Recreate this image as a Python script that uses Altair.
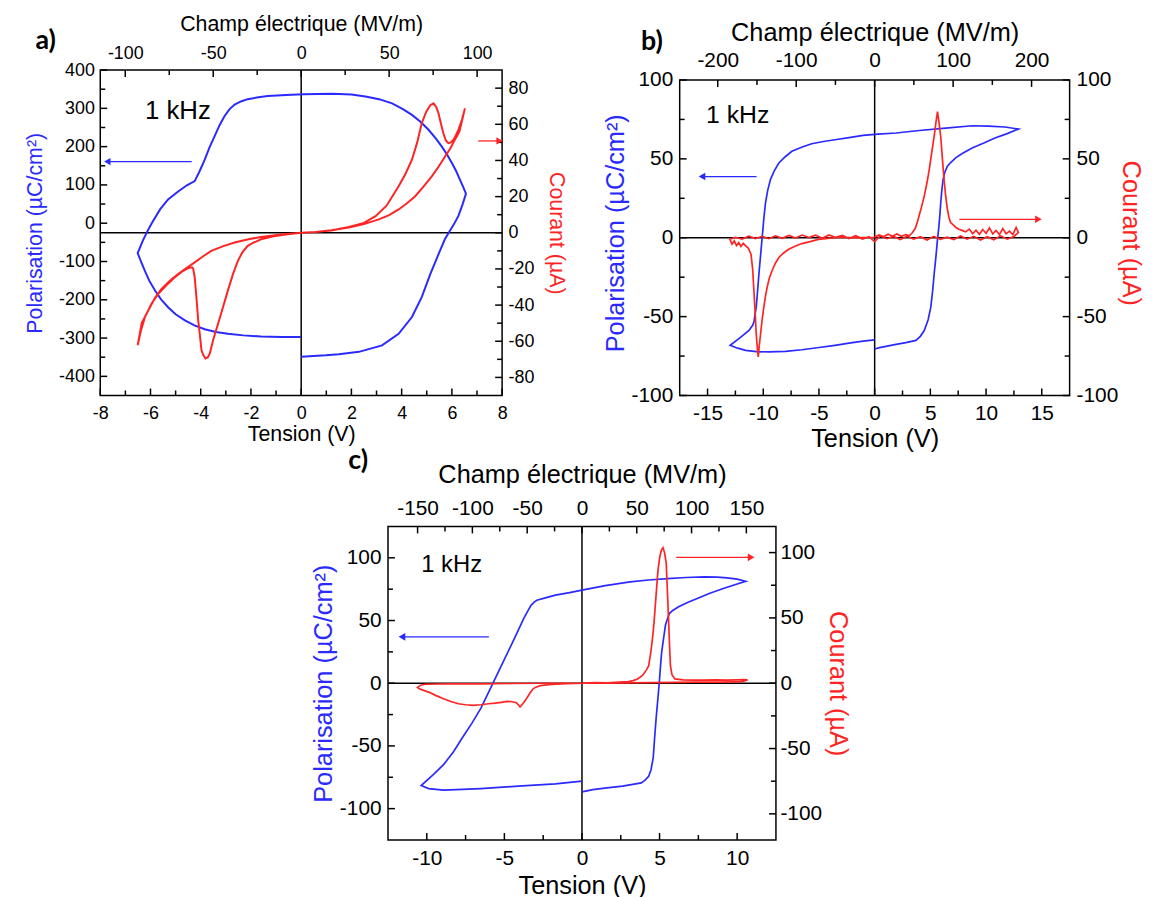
import altair as alt
import pandas as pd

FONT = "Liberation Sans"
BLUE = "#2a2aff"
RED = "#ff2424"

# ---------------- Panel a ----------------
a_pol_v = [0, -0.8, -1.6, -2.3, -2.92, -3.4, -3.84, -4.25, -4.63, -5.0, -5.29, -5.58, -5.82, -6.05, -6.22, -6.38, -6.51,
           -6.3, -6.13, -5.95, -5.62, -5.3, -4.9, -4.55, -4.24, -4.05, -3.84, -3.65, -3.45, -3.25, -3.05, -2.85, -2.65,
           -2.4, -2.13, -1.7, -1.33, -0.6, 0.1, 1.24, 2.0, 2.56, 3.1, 3.62, 4.05, 4.41, 4.75, 5.07, 5.35, 5.6, 5.82,
           6.0, 6.18, 6.32, 6.45, 6.56,
           6.42, 6.26, 6.08, 5.88, 5.72, 5.47, 5.14, 4.8, 4.41, 3.88, 3.22, 2.3, 1.5, 0.98, 0]
a_pol_p = [-297, -297, -296, -293, -289, -284, -277, -267, -254, -238, -220, -199, -176, -150, -125, -100, -78,
           -45, -22, 0, 36, 62, 83, 99, 110, 135, 166, 198, 227, 256, 280, 298, 310,
           318, 324, 329, 332, 335, 337, 338, 336, 331, 324, 313, 298, 283, 265, 244, 222, 200, 178,
           157, 135, 114, 95, 77,
           48, 19, -3, -24, -42, -81, -133, -193, -245, -289, -319, -336, -342, -345, -349]
a_cur_v = [0, 0.6, 1.2, 1.9, 2.5, 2.96, 3.4, 3.88, 4.15, 4.41, 4.62, 4.8, 4.98, 5.14, 5.27, 5.38, 5.47, 5.57, 5.66,
           5.76, 5.86, 5.96, 6.06, 6.16, 6.26, 6.4, 6.52,
           6.3, 6.12, 5.93, 5.73, 5.47, 5.2, 4.87, 4.54, 4.2, 3.88, 3.5, 3.09, 2.5, 1.9, 1.2, 0.58, 0,
           -0.54, -1.1, -1.6, -1.9, -2.13, -2.35, -2.52, -2.72, -2.92, -3.12, -3.31, -3.5, -3.64, -3.72, -3.81,
           -3.9, -3.97, -4.03, -4.1, -4.17, -4.24, -4.3, -4.34, -4.5, -4.75, -5.03, -5.35, -5.69, -5.95, -6.22,
           -6.38, -6.51,
           -6.35, -6.09, -5.82, -5.56, -5.23, -4.9, -4.57, -4.24, -3.9, -3.58, -3.1, -2.65, -2.1, -1.6, -0.8, 0]
a_cur_i = [0, 0.5, 1.3, 3.2, 5.5, 9.2, 15, 25.7, 32.5, 40.4, 50, 60.6, 67, 70.6, 71.6, 69.5, 66, 60, 55,
           51, 49.6, 50, 51.4, 54, 56.9, 62.5, 68.8,
           56, 51.4, 46.5, 42.2, 36.5, 31.2, 25.5, 20.2, 16.2, 12.9, 9.8, 7.4, 4.8, 2.9, 1.4, 0.4, 0,
           -0.8, -2, -3.6, -5.5, -7.2, -11, -15.5, -23, -32, -41.5, -50.3, -59, -66.8, -69, -69.5,
           -67.5, -65, -57, -48.5, -36, -24.6, -20, -19.1, -19.5, -21.5, -24.6, -28.8, -33.8, -39, -46.6,
           -54, -62.2,
           -50, -43, -36, -31, -26.5, -22.8, -19.5, -16.4, -13, -10, -7.4, -5.4, -3.6, -2.3, -0.9, 0]

# ---------------- Panel b ----------------
b_pol_v = [0, -1.04, -2.3, -3.56, -5.0, -6.53, -8.0, -9.5, -10.6, -11.58, -12.3, -12.97,
           -12.1, -11.28, -10.95, -10.84, -10.72, -10.63, -10.5, -10.39, -10.25, -10.1, -9.95, -9.8, -9.6, -9.35,
           -9.0, -8.6, -8.0, -7.43, -6.5, -5.65, -4.6, -3.56, -2.3, -1.04, 0.3, 1.93, 4.0, 6.38, 8.75, 10.2, 11.7, 12.9,
           11.9, 10.8, 9.8, 8.75, 7.9, 7.27, 6.8, 6.53, 6.3, 6.14, 6.03, 5.93, 5.85, 5.75, 5.64, 5.5, 5.34, 5.2,
           5.04, 4.8, 4.45, 4.1, 3.7, 2.8, 1.92, 0.44, 0]
b_pol_p = [-64.7, -65.5, -66.8, -68.2, -69.6, -71, -72, -72.4, -72.2, -71.4, -70, -68.2,
           -63.5, -58.8, -55.5, -53.5, -48, -44, -33, -23, -12, 0, 12, 22, 30, 37,
           42.5, 47.4, 51.5, 54.8, 57.5, 59.6, 61, 62.1, 63.5, 64.9, 65.7, 66.4, 68, 69.5, 71, 70.8, 70.2, 68.9,
           66, 63.2, 60, 56.9, 53.5, 50.6, 47.5, 45.3, 41.5, 36.9, 30, 22.2, 14, 6, -1, -12, -23, -34,
           -44, -52, -58.8, -62.5, -65.1, -66.5, -67.6, -69.7, -70.5]
b_cur_v = [0, 0.4, 0.8, 1.2, 1.6, 2.0, 2.4, 2.8, 3.1, 3.4, 3.65, 3.86, 4.15, 4.45, 4.7, 4.9, 5.12, 5.34, 5.5, 5.64,
           5.78, 5.93, 6.08, 6.23, 6.38, 6.53, 6.68, 6.82, 7.1, 7.3, 7.57, 7.9, 8.16, 8.5, 8.8, 9.1, 9.4, 9.7, 10.0,
           10.3, 10.6, 10.9, 11.2, 11.5, 11.8, 12.1, 12.4, 12.7, 12.9,
           12.5, 11.9, 11.3, 10.7, 10.1, 9.5, 8.9, 8.3, 7.7, 7.1, 6.5, 5.9, 5.3, 4.7, 4.1, 3.5, 2.9, 2.3, 1.7, 1.1,
           0.5, 0, -0.5, -1.1, -1.7, -2.3, -2.9, -3.5, -4.1, -4.7, -5.3, -5.9, -6.5, -7.1, -7.7, -8.3, -8.9, -9.5,
           -10.1, -10.7, -11.3, -11.9, -12.5, -13,
           -12.8, -12.6, -12.4, -12.2, -12.0, -11.8, -11.6, -11.35, -11.1, -10.95, -10.84, -10.72, -10.63, -10.53,
           -10.45, -10.35, -10.24, -10.1, -9.95, -9.8, -9.65, -9.45, -9.21, -8.9, -8.6, -8.2, -7.72, -7.1, -6.53,
           -5.8, -5.05, -4.0, -3.0, -2.0, 0]
b_cur_i = [0.5, 1.8, 0.6, 2.2, 1.0, 2.4, 0.9, 2.0, 1.2, 3.3, 6, 10.6, 18, 26.4, 35, 43.2, 54, 64.2, 73, 80,
           73, 64.2, 50, 36.9, 26, 18, 12.5, 9.6, 7.8, 6.5, 5.4, 4.5, 3.7, 5.5, 2.6, 4.8, 2.2, 5.2, 2.8,
           6.2, 2.4, 4.6, 2.0, 5.8, 2.5, 4.2, 2.0, 6.5, 3.3,
           0.8, -0.9, 1.2, -1.3, 0.6, -1.5, 0.9, -0.8, 1.1, -1.2, 0.4, -1.0, 0.9, -1.4, 0.7, -0.9, 1.0, -1.2, 0.8, -0.6,
           1.1, -2.5, 0.7, -0.8, 1.3, -0.5, 1.5, 0.2, 1.8, -0.3, 1.6, 0.1, 1.7, -0.2, 1.4, -0.4, 1.2, -0.6,
           0.9, -0.5, 1.0, -0.8, 0.3, -1,
           -4, -2, -5, -3, -5.5, -3.5, -5, -6.5, -10.4, -20, -33.6, -48, -61, -70,
           -75.6, -68, -61, -52, -44, -37, -31.4, -25.5, -20.9, -16, -12.5, -9.8, -7.3, -5.2, -3.7,
           -2.5, -1, -0.3, 0.4, 0, 0.3]

# ---------------- Panel c ----------------
c_pol_v = [0, -1.71, -4.11, -6.51, -8.92, -9.88, -10.36,
           -9.6, -8.92, -8.3, -7.72, -7.1, -6.51, -5.79, -5.07, -4.35, -3.75, -3.45, -3.27, -3.1, -2.91, -2.3, -1.71,
           -0.8, 0, 1.5, 3.1, 4.3, 5.5, 6.7, 7.9, 8.7, 9.35, 10.0, 10.55,
           9.8, 9.11, 8.2, 7.43, 6.8, 6.23, 5.85, 5.63, 5.5, 5.38, 5.25, 5.14, 5.05, 4.98, 4.88, 4.78, 4.68, 4.59,
           4.45, 4.3, 4.05, 3.82, 2.62, 1.6, 0.7, 0]
c_pol_p = [-78.1, -80.3, -82.1, -84, -85.3, -84, -81.6,
           -73, -64.9, -55, -43.7, -32, -19.9, -1.3, 17.2, 35.8, 51.7, 58.5, 62.3, 64.5, 66.2, 68.3, 70.2,
           72.2, 74.2, 77.8, 80.8, 82.3, 83.4, 84.3, 84.8, 84.6, 84, 83, 81.3,
           78.3, 75.5, 71.5, 67.5, 64.3, 60.9, 58, 55.6, 51, 46.3, 35, 25.2, 12, 0, -14, -27.8, -44, -59.6,
           -69, -74.2, -77.5, -79.5, -82.1, -83.5, -84.8, -86.6]
c_cur_v = [0, 0.8, 1.6, 2.4, 3.0, 3.3, 3.58, 3.9, 4.15, 4.3, 4.45, 4.58, 4.66, 4.78, 4.9, 5.02, 5.12, 5.22, 5.32,
           5.43, 5.5, 5.58, 5.64, 5.7, 5.8, 5.99, 6.5, 7.2, 7.9, 8.6, 9.3, 10.0, 10.5, 10.67,
           10.3, 9.0, 7.5, 6.0, 4.5, 3.0, 1.5, 0,
           -1.0, -2.0, -2.67, -3.0, -3.15, -3.35, -3.58, -3.8, -3.99, -4.1, -4.23, -4.5, -4.83, -5.2, -5.6, -6.03,
           -6.5, -7.0, -7.5, -7.96, -8.45, -8.92, -9.4, -9.88, -10.2, -10.48, -10.6,
           -10.4, -10.1, -8.5, -6.5, -4.5, -2.5, 0]
c_cur_i = [0, 0.5, 0.3, 0.8, 1.2, 2.0, 3.3, 6, 10, 13.4, 25, 38, 48.9, 68, 86.8, 97, 102, 103.8, 100,
           91.9, 72, 48.9, 30, 13.4, 6.5, 3.3, 2.6, 2.3, 2.3, 2.5, 2.4, 2.6, 2.8, 2.5,
           1.2, 0.9, 0.8, 0.6, 0.4, 0.2, 0.1, 0,
           -0.3, -0.9, -1.8, -3.2, -4.3, -7.5, -11.9, -15.5, -18.2, -16.5, -14.9, -14.2, -13.9, -14.6, -15.3, -15.7,
           -16.5, -17, -16.5, -15.7, -14, -11.9, -9.5, -6.8, -5.5, -4.3, -3.2,
           -1.5, -0.8, -0.4, -0.5, -0.2, 0, 0]

TITLE_E = "Champ électrique (MV/m)"
TITLE_V = "Tension (V)"
TITLE_P = "Polarisation (µC/cm²)"
TITLE_I = "Courant (µA)"


def frange(lo, hi, step):
    out, k = [], 0
    while lo + k * step <= hi + 1e-9:
        out.append(round(lo + k * step, 6))
        k += 1
    return out


def is_major(v, major):
    r = abs(v) % major
    return r < 1e-6 or abs(r - major) < 1e-6


def make_axis(orient, values, major, lsize, tsize, title, tcolor, lpad, tpad, offset=0):
    return alt.Axis(
        orient=orient, values=values,
        labelExpr=f"abs(datum.value) % {major} < 1e-6 ? toString(datum.value) : ''",
        ticks=False, tickSize=0, offset=offset, domain=False, grid=False,
        labelColor="black", labelFont=FONT, titleFont=FONT, labelFontSize=lsize, titleFontSize=tsize,
        title=title, titleColor=tcolor, titleFontWeight="normal",
        labelPadding=lpad, titlePadding=tpad, labelOverlap=False, labelFlush=False,
    )


def tick_layers(values, major, scale, side, w, h, extra):
    """Inward tick marks along one edge of the frame (mark_tick centred half a length inside)."""
    out = []
    for sel, L in ((True, 7), (False, 5)):
        vals = [v for v in values if is_major(v, major) == sel]
        if not vals:
            continue
        df = pd.DataFrame({"t": vals})
        if side in ("bottom", "top"):
            yc = h + extra - L / 2 if side == "bottom" else extra + L / 2
            out.append(alt.Chart(df).mark_tick(orient="vertical", color="black", opacity=1,
                                               thickness=1.5, size=L).encode(
                x=alt.X("t:Q", scale=scale, axis=None), y=alt.value(yc)))
        else:
            xc = L / 2 if side == "left" else w - L / 2
            out.append(alt.Chart(df).mark_tick(orient="horizontal", color="black", opacity=1,
                                               thickness=1.5, size=L).encode(
                y=alt.Y("t:Q", scale=scale, axis=None), x=alt.value(xc)))
    return out


def panel(cfg):
    sV = alt.Scale(domain=cfg["vdom"], nice=False, zero=False)
    sE = alt.Scale(domain=cfg["edom"], nice=False, zero=False)
    sP = alt.Scale(domain=cfg["pdom"], nice=False, zero=False)
    sI = alt.Scale(domain=cfg["idom"], nice=False, zero=False)
    ls, ts, lw = cfg["lsize"], cfg["tsize"], cfg["lw"]
    extra = cfg.get("extra", 0)
    w, h = cfg["w"], cfg["h"]

    dfP = pd.DataFrame({"v": cfg["pv"], "p": cfg["pp"], "i": range(len(cfg["pv"]))})
    dfI = pd.DataFrame({"v": cfg["iv"], "c": cfg["ii"], "i": range(len(cfg["iv"]))})

    bottom = make_axis("bottom", cfg["vticks"], cfg["vmajor"], ls, ts, TITLE_V, "black", *cfg["pad_b"])
    left = make_axis("left", cfg["pticks"], cfg["pmajor"], ls, ts, TITLE_P, BLUE, *cfg["pad_l"])
    right = make_axis("right", cfg["iticks"], cfg["imajor"], ls, ts, TITLE_I, RED, *cfg["pad_r"])
    top = make_axis("top", cfg["eticks"], cfg["emajor"], ls, ts, TITLE_E, "black", *cfg["pad_t"],
                    offset=-extra)

    layers = []
    if extra:
        frame = pd.DataFrame({"x1": [cfg["vdom"][0]], "x2": [cfg["vdom"][1]],
                              "y1": [cfg["frame"][0]], "y2": [cfg["frame"][1]]})
        layers.append(alt.Chart(frame).mark_rect(fillOpacity=0, stroke="black", strokeWidth=1.5).encode(
            x=alt.X("x1:Q", scale=sV, axis=None), x2="x2:Q",
            y=alt.Y("y1:Q", scale=sP, axis=None), y2="y2:Q"))
        vdf = pd.DataFrame({"v": [0], "y1": [cfg["frame"][0]], "y2": [cfg["frame"][1]]})
        layers.append(alt.Chart(vdf).mark_rule(color="black", strokeWidth=1.5).encode(
            x=alt.X("v:Q", scale=sV, axis=None),
            y=alt.Y("y1:Q", scale=sP, axis=None), y2="y2:Q"))
    else:
        layers.append(alt.Chart(pd.DataFrame({"v": [0]})).mark_rule(color="black", strokeWidth=1.5).encode(
            x=alt.X("v:Q", scale=sV, axis=None)))

    layers += tick_layers(cfg["vticks"], cfg["vmajor"], sV, "bottom", w, h, extra)
    layers += tick_layers(cfg["eticks"], cfg["emajor"], sE, "top", w, h, extra)
    layers += tick_layers(cfg["pticks"], cfg["pmajor"], sP, "left", w, h, extra)
    layers += tick_layers(cfg["iticks"], cfg["imajor"], sI, "right", w, h, extra)

    hline = alt.Chart(pd.DataFrame({"c": [0]})).mark_rule(color="black", strokeWidth=1.5).encode(
        y=alt.Y("c:Q", scale=sI, axis=None))
    topaxis = alt.Chart(pd.DataFrame({"e": cfg["edom"]})).mark_rule(opacity=0).encode(
        x=alt.X("e:Q", scale=sE, axis=top))
    pol = alt.Chart(dfP).mark_line(color=BLUE, strokeWidth=lw).encode(
        x=alt.X("v:Q", scale=sV, axis=bottom),
        y=alt.Y("p:Q", scale=sP, axis=left),
        order="i:Q")
    cur = alt.Chart(dfI).mark_line(color=RED, strokeWidth=lw).encode(
        x=alt.X("v:Q", scale=sV, axis=None),
        y=alt.Y("c:Q", scale=sI, axis=right),
        order="i:Q")

    ba = cfg["barrow"]
    ra = cfg["rarrow"]
    barrow = alt.Chart(pd.DataFrame({"x1": [ba[0]], "x2": [ba[1]], "y": [ba[2]]})).mark_rule(
        color=BLUE, strokeWidth=1.3).encode(
        x=alt.X("x1:Q", scale=sV, axis=None), x2="x2:Q", y=alt.Y("y:Q", scale=sP, axis=None))
    bhead = alt.Chart(pd.DataFrame({"x": [ba[0]], "y": [ba[2]]})).mark_point(
        shape="triangle-left", filled=True, color=BLUE, opacity=1, size=cfg["hsize"]).encode(
        x=alt.X("x:Q", scale=sV, axis=None), y=alt.Y("y:Q", scale=sP, axis=None))
    rarrow = alt.Chart(pd.DataFrame({"x1": [ra[0]], "x2": [ra[1]], "y": [ra[2]]})).mark_rule(
        color=RED, strokeWidth=1.3).encode(
        x=alt.X("x1:Q", scale=sV, axis=None), x2="x2:Q", y=alt.Y("y:Q", scale=sI, axis=None))
    rhead = alt.Chart(pd.DataFrame({"x": [ra[1]], "y": [ra[2]]})).mark_point(
        shape="triangle-right", filled=True, color=RED, opacity=1, size=cfg["hsize"]).encode(
        x=alt.X("x:Q", scale=sV, axis=None), y=alt.Y("y:Q", scale=sI, axis=None))

    khz = alt.Chart(pd.DataFrame({"x": [cfg["khz"][0]], "y": [cfg["khz"][1]], "t": ["1 kHz"]})).mark_text(
        align="left", baseline="middle", font=FONT, fontSize=cfg["ksize"], color="black").encode(
        x=alt.X("x:Q", scale=sV, axis=None), y=alt.Y("y:Q", scale=sP, axis=None), text="t:N")
    letter = alt.Chart(pd.DataFrame({"t": [cfg["letter"]]})).mark_text(
        align="center", baseline="middle", font="Lato", fontWeight="bold", fontSize=27, color="black").encode(
        x=alt.value(cfg["lpos"][0]), y=alt.value(cfg["lpos"][1] + extra), text="t:N")

    layers += [hline, topaxis, pol, cur, barrow, bhead, rarrow, rhead, khz, letter]
    ch = alt.layer(*layers).resolve_scale(x="independent", y="independent")
    if extra:
        return ch.properties(width=w, height=h + extra, view=alt.ViewBackground(stroke=None))
    return ch.properties(width=w, height=h)


cfg_a = dict(
    vdom=[-8, 8], edom=[-114.2, 114.2], pdom=[-450, 400], idom=[-90, 90], w=405, h=328,
    pv=a_pol_v, pp=a_pol_p, iv=a_cur_v, ii=a_cur_i,
    vticks=frange(-8, 8, 1), vmajor=2, pticks=frange(-400, 400, 50), pmajor=100,
    iticks=frange(-80, 80, 10), imajor=20, eticks=frange(-100, 100, 25), emajor=50,
    lsize=18, tsize=21.5, lw=2,
    pad_b=(9, 1), pad_l=(6, 12), pad_r=(6, 11), pad_t=(8, 9),
    barrow=(-7.72, -4.36, 161), rarrow=(7.05, 7.9, 50.8), hsize=55,
    khz=(-6.22, 292), ksize=26, letter="a)", lpos=(-55, -29),
)
# panel b sits 10 px lower than panel a: its view is 10 px taller at the top
B_EXTRA = 10
cfg_b = dict(
    vdom=[-17.5, 17.5], edom=[-248.5, 248.5], pdom=[-100, 100 + B_EXTRA * 200 / 318],
    idom=[-100, 100 + B_EXTRA * 200 / 318], w=393, h=318, extra=B_EXTRA, frame=(-100, 100),
    pv=b_pol_v, pp=b_pol_p, iv=b_cur_v, ii=b_cur_i,
    vticks=frange(-15, 15, 2.5), vmajor=5, pticks=frange(-100, 100, 25), pmajor=50,
    iticks=frange(-100, 100, 25), imajor=50, eticks=frange(-200, 200, 50), emajor=100,
    lsize=21, tsize=25.5, lw=1.7,
    pad_b=(7, 3), pad_l=(7, 3), pad_r=(6.5, 0), pad_t=(9.5, 4),
    barrow=(-15.5, -10.6, 38.8), rarrow=(7.6, 14.7, 11.7), hsize=60,
    khz=(-15.14, 77.9), ksize=25, letter="b)", lpos=(-28, -38),
)
cfg_c = dict(
    vdom=[-12.5, 12.5], edom=[-177, 177], pdom=[-125, 125], idom=[-120, 120], w=391, h=316,
    pv=c_pol_v, pp=c_pol_p, iv=c_cur_v, ii=c_cur_i,
    vticks=frange(-10, 10, 2.5), vmajor=5, pticks=frange(-100, 100, 25), pmajor=50,
    iticks=frange(-100, 100, 25), imajor=50, eticks=frange(-150, 150, 25), emajor=50,
    lsize=21, tsize=25.5, lw=1.7,
    pad_b=(7.5, 5), pad_l=(7, 3), pad_r=(4, 3), pad_t=(8, 10),
    barrow=(-11.6, -6.0, 37), rarrow=(6.07, 10.9, 96.4), hsize=60,
    khz=(-10.36, 94.4), ksize=24, letter="c)", lpos=(-30, -66),
)

pa = panel(cfg_a)
pb = panel(cfg_b)
pc = panel(cfg_c)

spacer = alt.Chart(pd.DataFrame({"x": [0]})).mark_point(opacity=0).properties(
    width=202, height=10, view=alt.ViewBackground(stroke=None))

top_row = alt.hconcat(pa, pb, spacing=35)
bottom_row = alt.hconcat(spacer, pc, spacing=10)
chart = alt.vconcat(top_row, bottom_row, spacing=-6).properties(
    padding={"left": 16, "top": 1, "right": 5, "bottom": 5}, background="white"
).configure_view(stroke="black", strokeWidth=1.5)

chart.save("out.html", embed_options={"renderer": "svg", "actions": False})
